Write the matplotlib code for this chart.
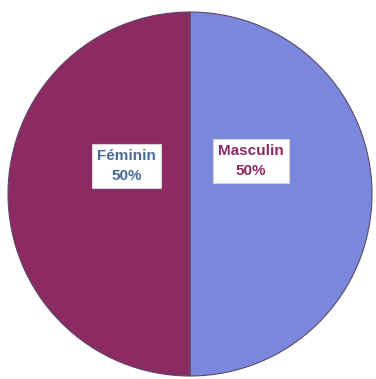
import matplotlib.pyplot as plt

# Répartition par sexe
labels = ['Masculin', 'Féminin']
values = [50, 50]
colors = ['#7b87dc', '#8b2b62']
text_colors = ['#8b2b62', '#4a6a9a']
label_pos = [(0.335, 0.18), (-0.35, 0.155)]

fig = plt.figure(figsize=(3.76, 3.79), dpi=100)
ax = fig.add_axes([8 / 376, 3 / 379, 364 / 376, 364 / 379])

wedges, _ = ax.pie(values, colors=colors, startangle=90, counterclock=False,
                   radius=1.0,
                   wedgeprops=dict(edgecolor='#5a4a6a', linewidth=0.8))

# étiquettes dans des cadres blancs
total = sum(values)
for lab, val, tc, (x, y) in zip(labels, values, text_colors, label_pos):
    ax.text(x, y, f'{lab}\n{val / total * 100:.0f}%', ha='center', va='center',
            fontsize=11, fontweight='bold', family='Liberation Sans',
            color=tc, linespacing=1.5,
            bbox=dict(boxstyle='square,pad=0.35', facecolor='white',
                      edgecolor='#d8d0d8', linewidth=0.8))

ax.set_xlim(-1, 1)
ax.set_ylim(-1, 1)
ax.set_aspect('equal')
ax.axis('off')

fig.savefig('out.png', dpi=100)
